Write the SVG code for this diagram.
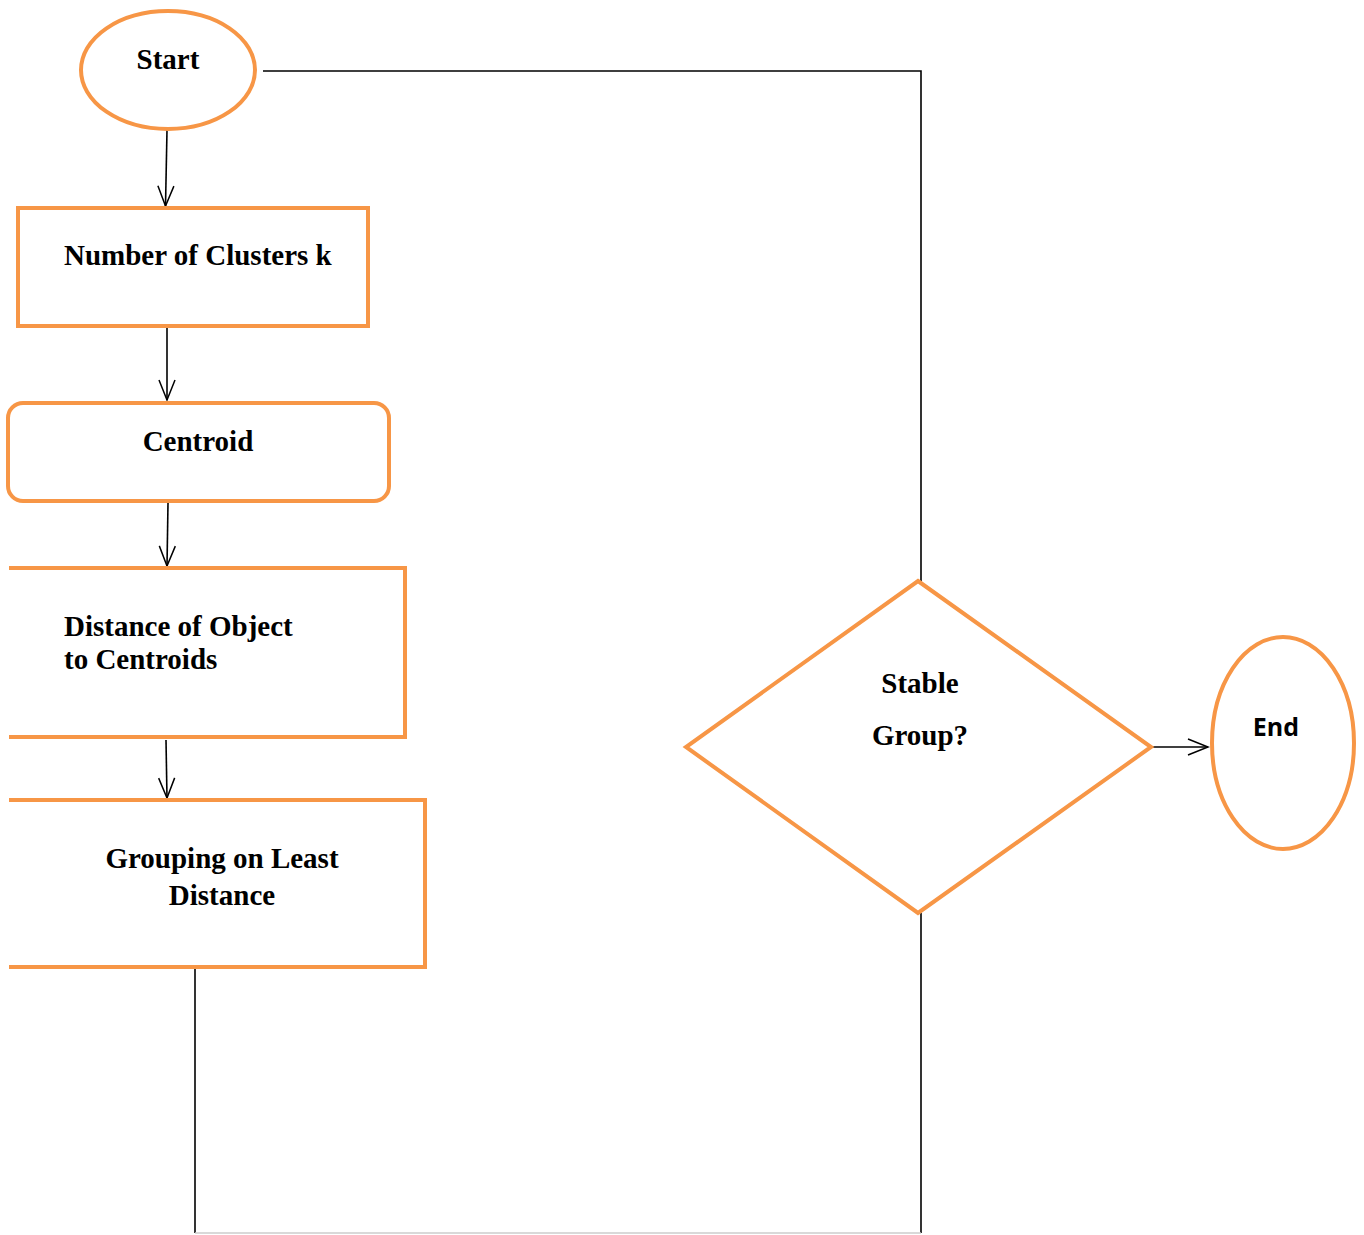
<svg xmlns="http://www.w3.org/2000/svg" width="1364" height="1235" viewBox="0 0 1364 1235">
<defs>
<marker id="arr" markerWidth="24" markerHeight="20" refX="22" refY="10" orient="auto" markerUnits="userSpaceOnUse">
<path d="M2,2 L22,10 L2,18" fill="none" stroke="#000" stroke-width="1.5"/>
</marker>
<style>
.shape{fill:#fff;stroke:#F79646;stroke-width:4}
.open{fill:none;stroke:#F79646;stroke-width:4}
.t{font-family:"Liberation Serif",serif;font-weight:bold;font-size:29px;fill:#000}
.c{text-anchor:middle}
.s{font-family:"Open Sans","Liberation Sans",sans-serif;font-weight:bold;font-size:25px;fill:#000;text-anchor:middle}
.ln{fill:none;stroke:#000;stroke-width:1.6}
</style>
</defs>
<rect width="1364" height="1235" fill="#fff"/>
<g id="connectors">
<polyline class="ln" points="263,71 921,71 921,581"/>
<polyline class="ln" points="921,913 921,1233"/>
<polyline class="ln" points="195,967 195,1233"/>
<line x1="195" y1="1233" x2="921" y2="1233" stroke="#ccc" stroke-width="1.5"/>
<line class="ln" x1="167" y1="130" x2="165.5" y2="206" marker-end="url(#arr)"/>
<line class="ln" x1="167" y1="326" x2="167" y2="400" marker-end="url(#arr)"/>
<line class="ln" x1="168" y1="503" x2="167" y2="566" marker-end="url(#arr)"/>
<line class="ln" x1="166" y1="740" x2="167" y2="798" marker-end="url(#arr)"/>
<line class="ln" x1="1151" y1="747" x2="1208" y2="747" marker-end="url(#arr)"/>
</g>
<g id="start">
<ellipse class="shape" cx="168" cy="70" rx="87" ry="59"/>
<text class="t c" x="168" y="69">Start</text>
</g>
<g id="clusters">
<rect class="shape" x="18" y="208" width="350" height="118"/>
<text class="t" x="64" y="265">Number of Clusters k</text>
</g>
<g id="centroid">
<rect class="shape" x="8" y="403" width="381" height="98" rx="15"/>
<text class="t c" x="198" y="451">Centroid</text>
</g>
<g id="distance">
<polyline class="open" points="9,568 405,568 405,737 9,737"/>
<text class="t" x="64" y="636">Distance of Object</text>
<text class="t" x="64" y="669">to Centroids</text>
</g>
<g id="grouping">
<polyline class="open" points="9,800 425,800 425,967 9,967"/>
<text class="t c" x="222" y="868">Grouping on Least</text>
<text class="t c" x="222" y="905">Distance</text>
</g>
<g id="stable">
<polygon class="shape" points="918,581 1151,747 918,913 686,747"/>
<text class="t c" x="920" y="693">Stable</text>
<text class="t c" x="920" y="745">Group?</text>
</g>
<g id="end">
<ellipse class="shape" cx="1283" cy="743" rx="71" ry="106" stroke-width="5"/>
<text class="s" x="1276" y="736">End</text>
</g>
</svg>
